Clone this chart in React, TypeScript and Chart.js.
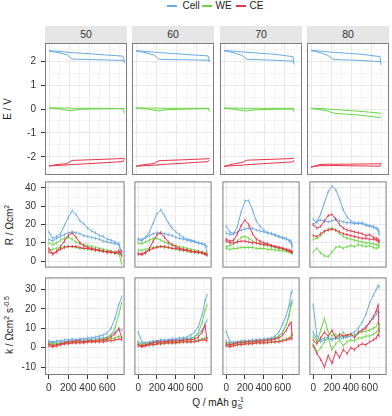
import React, { useEffect, useRef } from 'react';
import { Chart, registerables } from 'chart.js';
Chart.register(...registerables);

const FONT = "'Liberation Sans', Arial, Helvetica, sans-serif";
Chart.defaults.font.family = FONT;

const FACETS = ['50', '60', '70', '80'];
const SERIES = ['Cell', 'WE', 'CE'];
const COLORS: Record<string, string> = { Cell: '#6aaae4', WE: '#6ad743', CE: '#e8334a' };

// ---------- Row 1: E / V ----------
const EQ50 = [0, 90, 180, 230, 300, 500, 740, 755];
const EQ60 = [0, 90, 180, 230, 300, 500, 720, 735];
const EQ70 = [0, 90, 180, 230, 300, 500, 690, 700];
const EQ80 = [0, 90, 170, 220, 300, 500, 690, 700];

const E50cellA = [2.44, 2.41, 2.38, 2.36, 2.34, 2.28, 2.21, 1.95];
const E50cellB = [2.42, 2.36, 2.27, 2.09, 2.08, 2.06, 2.03, 1.93];
const E50weA = [0.05, 0.04, 0.04, 0.03, 0.03, 0.03, 0.02, -0.18];
const E50weB = [0.04, 0.02, -0.06, -0.07, -0.01, 0.01, 0.02, 0.04];
const E50ceA = [-2.38, -2.36, -2.34, -2.32, -2.31, -2.26, -2.2, -2.1];
const E50ceB = [-2.38, -2.32, -2.28, -2.15, -2.14, -2.11, -2.07, -2.06];

const E60cellA = [2.44, 2.41, 2.38, 2.36, 2.34, 2.28, 2.22, 1.97];
const E60cellB = [2.42, 2.36, 2.26, 2.08, 2.07, 2.06, 2.04, 2.0];
const E60weA = [0.05, 0.04, 0.04, 0.03, 0.03, 0.03, 0.03, -0.12];
const E60weB = [0.04, 0.02, -0.05, -0.08, -0.03, 0.0, 0.02, 0.04];
const E60ceA = [-2.39, -2.37, -2.35, -2.33, -2.31, -2.26, -2.2, -2.12];
const E60ceB = [-2.39, -2.32, -2.28, -2.16, -2.15, -2.12, -2.08, -2.06];

const E70cellA = [2.45, 2.42, 2.39, 2.37, 2.35, 2.29, 2.19, 1.86];
const E70cellB = [2.43, 2.36, 2.24, 2.08, 2.07, 2.04, 2.0, 1.95];
const E70weA = [0.04, 0.04, 0.03, 0.03, 0.03, 0.03, 0.03, -0.12];
const E70weB = [0.03, 0.0, -0.07, -0.08, -0.04, -0.01, 0.0, 0.02];
const E70ceA = [-2.4, -2.37, -2.35, -2.33, -2.31, -2.26, -2.21, -2.14];
const E70ceB = [-2.4, -2.3, -2.24, -2.14, -2.13, -2.1, -2.07, -2.04];

const E80cellA = [2.46, 2.42, 2.39, 2.37, 2.35, 2.29, 2.19, 1.85];
const E80cellB = [2.44, 2.36, 2.24, 2.08, 2.06, 2.03, 1.98, 1.96];
const E80weA = [0.03, 0.02, 0.0, -0.02, -0.04, -0.1, -0.17, -0.2];
const E80weB = [0.03, -0.02, -0.09, -0.17, -0.2, -0.26, -0.36, -0.3];
const E80ceA = [-2.43, -2.32, -2.31, -2.31, -2.31, -2.3, -2.29, -2.27];
const E80ceB = [-2.43, -2.37, -2.37, -2.36, -2.37, -2.38, -2.39, -2.31];

// ---------- Rows 2-3: shared Q grids ----------
const Q50 = [0, 40, 80, 120, 160, 200, 240, 280, 320, 360, 400, 440, 480, 520, 560, 600, 640, 680, 720, 750];
const Q60 = [0, 40, 80, 120, 160, 200, 240, 280, 320, 360, 400, 440, 480, 520, 560, 600, 640, 680, 710, 730];
const Q70 = [0, 40, 80, 120, 160, 200, 240, 280, 320, 360, 400, 440, 480, 520, 560, 600, 640, 670, 690, 700];
const Q80 = [0, 40, 80, 120, 160, 200, 240, 280, 320, 360, 400, 440, 480, 520, 560, 600, 640, 670, 690, 700];

// ---------- Row 2: R / Ωcm² ----------
const R50cellA = [16, 12.5, 13.5, 15, 19.5, 24, 27.5, 25.5, 22, 20.5, 18, 16.5, 15.5, 14, 13.5, 12, 11.5, 10.5, 9.5, 5];
const R50cellB = [12, 11, 12.5, 13.5, 14.5, 15.5, 16, 15.5, 15, 14, 13.5, 13, 12.5, 12, 11, 10.5, 10, 9.5, 9, 4];
const R50weA = [10, 9, 10, 11.5, 12.5, 13, 12, 10.5, 9.5, 9, 8.5, 8, 7.5, 7, 6.5, 6, 5.5, 5, 4.5, -1.5];
const R50weB = [6, 6.5, 7, 7.5, 8, 8, 8, 7.5, 7, 7, 6.5, 6.5, 6, 5.5, 5.5, 5, 5, 4.5, 4, 3];
const R50ceA = [7, 4, 5, 8, 11, 14, 15.5, 13, 10, 8.5, 7.5, 7, 6.5, 6, 5.5, 5, 5, 4.5, 6, 3];
const R50ceB = [5, 4, 5.5, 6.5, 7.5, 8, 8, 8, 7.5, 7, 7, 6.5, 6, 6, 5.5, 5, 5, 4.5, 4.5, 5.5];

const R60cellA = [12, 11, 13, 16, 21, 26, 28, 25, 21, 18, 16, 14.5, 13, 12, 11.5, 11, 10, 9.5, 9, 5];
const R60cellB = [12, 12, 13, 14, 15, 15.5, 15.5, 15, 14.5, 14, 13, 12.5, 12, 11.5, 11, 10.5, 10, 9.5, 9, 8];
const R60weA = [10, 9.5, 10.5, 11.5, 12.5, 12.5, 11.5, 10.5, 9.5, 9, 8.5, 8, 7.5, 7, 6.5, 6, 5.5, 5, 4.5, 4];
const R60weB = [6, 6, 6.5, 7, 7.5, 8, 8, 7.5, 7.5, 7, 6.5, 6, 6, 5.5, 5, 5, 4.5, 4.5, 4, 3.5];
const R60ceA = [4, 3.5, 4.5, 7, 11, 14.5, 15.5, 13, 10.5, 9, 8, 7, 6.5, 6, 5.5, 5, 5, 4.5, 4, 3.5];
const R60ceB = [4, 4, 5, 6, 7, 7.5, 8, 8, 7.5, 7, 7, 6.5, 6, 6, 5.5, 5, 5, 4.5, 4, 3.5];

const R70cellA = [19, 16, 15, 19, 27, 33, 33, 28, 22, 19, 17, 15.5, 15, 14, 13.5, 13, 12.5, 11, 10, 7.5];
const R70cellB = [15.5, 14.5, 15, 16, 17, 17.5, 18, 18, 17, 16.5, 16, 15.5, 15, 14.5, 13.5, 12.5, 12, 11.5, 11, 9];
const R70weA = [8, 8.5, 9.5, 11, 13, 13.5, 12.5, 11, 10, 9.5, 9, 8.5, 8, 7.5, 7, 6.5, 6, 5.5, 5, 4.5];
const R70weB = [7, 6.5, 7, 7, 7.5, 7.5, 7.5, 7.5, 7, 7, 7, 6.5, 6.5, 6, 6, 5.5, 5.5, 5, 5, 4.5];
const R70ceA = [12, 11, 11.5, 15, 19.5, 22.5, 20, 15, 12, 11, 10, 9.5, 8.5, 8, 7.5, 7, 6, 5.5, 5, 5];
const R70ceB = [11, 10, 10, 10.5, 11, 11, 10.5, 10, 10, 9.5, 9, 9, 8.5, 8, 7.5, 7, 6.5, 6, 5.5, 5];

const R80cellA = [23, 21, 26, 32, 38, 41, 39, 34, 28, 24, 22, 21, 20.5, 21, 20, 19.5, 19, 18, 17, 14.5];
const R80cellB = [20, 22, 22.5, 22, 21.5, 22, 23, 22, 21.5, 21, 21, 20.5, 21, 20.5, 19.5, 19, 18.5, 18, 17.5, 16];
const R80weA = [12, 12.5, 14, 16, 17.5, 18, 17, 15, 13.5, 12.5, 12, 11.5, 11, 10.5, 10, 10, 9.5, 9, 9, 8.5];
const R80weB = [5, 7, 4.5, 3, 2.5, 5, 7.5, 8, 7, 8, 8.5, 8, 9, 8.5, 8, 8.5, 7.5, 7, 7.5, 8];
const R80ceA = [20, 18, 19, 22, 25, 25.5, 23, 20, 18, 17, 16.5, 16, 15.5, 15, 14, 14.5, 13, 12.5, 12, 11];
const R80ceB = [14, 13.5, 15, 16.5, 17, 17.5, 17, 16, 15, 14.5, 14, 13.5, 13, 12.5, 12.5, 12, 12, 11.5, 11, 10.5];

// ---------- Row 3: k ----------
const K50cellA = [3.5, 3, 3.5, 3.5, 4, 4, 4.5, 4, 4.5, 4.5, 5, 5, 5.5, 6, 6.5, 7.5, 10, 15, 22, 26];
const K50cellB = [3, 2.5, 3, 3, 3, 3.5, 3.5, 3.5, 4, 4, 4, 4.5, 4.5, 5, 5, 5.5, 6.5, 8, 9.5, 9];
const K50weA = [2.5, 2, 2, 2.5, 2.5, 3, 3, 3, 3, 3.5, 3.5, 3.5, 4, 4, 4.5, 5, 6.5, 10, 17, 23];
const K50weB = [1.5, 1.5, 2, 2, 2, 2.5, 2.5, 2.5, 3, 3, 3, 3, 3.5, 3.5, 3.5, 4, 4.5, 5, 6, 5];
const K50ceA = [2, 1, 1.5, 2, 2.5, 3, 3, 3.5, 3.5, 3, 3.5, 3.5, 3.5, 4, 4, 4.5, 5.5, 7, 10, 5];
const K50ceB = [1, 0.5, 1, 1.5, 2, 2, 2.5, 2.5, 2.5, 2.5, 3, 3, 3, 3, 3, 3.5, 3.5, 4, 4.5, 4];

const K60cellA = [8, 3, 2.5, 3, 3.5, 3.5, 4, 4, 4, 4.5, 4.5, 5, 5, 5.5, 6.5, 8, 11, 17, 24, 27];
const K60cellB = [3, 2, 2.5, 2.5, 3, 3, 3.5, 3.5, 3.5, 4, 4, 4, 4.5, 4.5, 5, 5.5, 7, 9, 12, 14];
const K60weA = [3, 1.5, 2, 2, 2.5, 2.5, 3, 3, 3, 3, 3.5, 3.5, 4, 4, 4.5, 5.5, 8, 13, 19, 22];
const K60weB = [2, 1, 1, 1.5, 1.5, 2, 2, 2, 2.5, 2.5, 2.5, 2.5, 3, 3, 3, 3.5, 4, 4.5, 5, 5];
const K60ceA = [1.5, 1, 1.5, 2, 2.5, 3, 3, 3, 3.5, 3.5, 3.5, 3.5, 4, 4, 4, 4.5, 5.5, 8, 11.5, 4.5];
const K60ceB = [1, 0.5, 1, 1.5, 1.5, 2, 2, 2.5, 2.5, 2.5, 2.5, 3, 3, 3, 3, 3, 3.5, 4, 4, 3.5];

const K70cellA = [8.5, 3, 3, 3, 3.5, 3.5, 3.5, 4, 4, 4, 4.5, 4.5, 5, 6, 8, 12, 17, 22, 28, 29];
const K70cellB = [3, 2.5, 2.5, 3, 3, 3, 3.5, 3.5, 3.5, 4, 4, 4, 4.5, 5, 6, 8, 12, 17, 23, 24];
const K70weA = [3, 2, 2, 2.5, 2.5, 3, 3, 3, 3, 3.5, 3.5, 4, 4, 5, 6, 8, 12, 17, 22, 23];
const K70weB = [1.5, 1, 1.5, 1.5, 2, 2, 2, 2.5, 2.5, 2.5, 2.5, 3, 3, 3, 3.5, 4, 4.5, 5, 6, 7];
const K70ceA = [2, 1.5, 2, 2.5, 2.5, 3, 3, 3, 3.5, 3.5, 3.5, 4, 4, 4.5, 5, 6.5, 9, 12, 13, 6];
const K70ceB = [1, 0.5, 1, 1.5, 1.5, 2, 2, 2, 2.5, 2.5, 2.5, 2.5, 3, 3, 3, 3.5, 4, 4.5, 5, 4.5];

const K80cellA = [22, 6, 4, 5, 5.5, 4.5, 5, 6, 5.5, 6, 7, 8, 10, 13, 17, 23, 27, 30, 32, 31];
const K80cellB = [8, 4, 3, 4, 4.5, 4, 5, 4.5, 5, 5.5, 6, 6.5, 7.5, 9, 11, 13, 15, 17, 19, 18];
const K80weA = [6, 3, 9, 15, 8, 6, 7, 5, 8, 6, 7, 6, 7.5, 8, 8.5, 9, 10, 11, 13, 12];
const K80weB = [2, -2, 0, 3, 5, -1, 2, 4, 1, 3, 4, 3.5, 5, 5, 6, 6, 7, 8, 9, 10];
const K80ceA = [4, 2, 5, 8, 6, 9, 5, 7, 6, 6.5, 7, 5, 8, 9, 10, 13, 16, 19, 22, 8];
const K80ceB = [1, -3, -6, -10, -4, -8, -2, -5, -1, -3, 0, -1, 1, 2, 1.5, 3, 4, 5, 7, 6];

type PanelData = { q: number[]; Cell: number[][]; WE: number[][]; CE: number[][] };
type RowSpec = { min: number; max: number; step: number; major: number; panels: PanelData[] };

const ROWS: RowSpec[] = [
  {
    min: -2.76, max: 2.76, step: 0.5, major: 1,
    panels: [
      { q: EQ50, Cell: [E50cellA, E50cellB], WE: [E50weA, E50weB], CE: [E50ceA, E50ceB] },
      { q: EQ60, Cell: [E60cellA, E60cellB], WE: [E60weA, E60weB], CE: [E60ceA, E60ceB] },
      { q: EQ70, Cell: [E70cellA, E70cellB], WE: [E70weA, E70weB], CE: [E70ceA, E70ceB] },
      { q: EQ80, Cell: [E80cellA, E80cellB], WE: [E80weA, E80weB], CE: [E80ceA, E80ceB] },
    ],
  },
  {
    min: -3.5, max: 43.6, step: 5, major: 10,
    panels: [
      { q: Q50, Cell: [R50cellA, R50cellB], WE: [R50weA, R50weB], CE: [R50ceA, R50ceB] },
      { q: Q60, Cell: [R60cellA, R60cellB], WE: [R60weA, R60weB], CE: [R60ceA, R60ceB] },
      { q: Q70, Cell: [R70cellA, R70cellB], WE: [R70weA, R70weB], CE: [R70ceA, R70ceB] },
      { q: Q80, Cell: [R80cellA, R80cellB], WE: [R80weA, R80weB], CE: [R80ceA, R80ceB] },
    ],
  },
  {
    min: -14, max: 36.1, step: 5, major: 10,
    panels: [
      { q: Q50, Cell: [K50cellA, K50cellB], WE: [K50weA, K50weB], CE: [K50ceA, K50ceB] },
      { q: Q60, Cell: [K60cellA, K60cellB], WE: [K60weA, K60weB], CE: [K60ceA, K60ceB] },
      { q: Q70, Cell: [K70cellA, K70cellB], WE: [K70weA, K70weB], CE: [K70ceA, K70ceB] },
      { q: Q80, Cell: [K80cellA, K80cellB], WE: [K80weA, K80weB], CE: [K80ceA, K80ceB] },
    ],
  },
];

const X_MIN = -40;
const X_MAX = 780;
const X_STEP = 100;
const X_MAJOR = 200;

// layout
const PANEL_X = [45, 132, 220, 307];
const PANEL_W = 82;
const PANEL_Y = [43, 179, 275];
const PANEL_H = [132, 91, 100];
const LEFT_EDGE = 17;
const X_AXIS_H = 18;
const STRIP_TOP = 26;
const STRIP_H = 17;

const GRID_MAJ = '#e9e9e9';
const GRID_MIN = '#f4f4f4';
const TICK_COLOR = '#333333';
const BORDER = '#7d7d7d';

const framePlugin = {
  id: 'frame',
  afterDraw(chart: any) {
    const { ctx, chartArea } = chart;
    const { left, top, right, bottom } = chartArea;
    ctx.save();
    ctx.strokeStyle = BORDER;
    ctx.lineWidth = 1;
    ctx.strokeRect(left + 0.5, top + 0.5, right - left - 1, bottom - top - 1);
    ctx.restore();
  },
};

const isMult = (v: number, m: number) => Math.abs(v / m - Math.round(v / m)) < 1e-6;

function Panel({ row, col }: { row: number; col: number }) {
  const ref = useRef<HTMLCanvasElement>(null);
  const spec = ROWS[row];
  const px = PANEL_X[col];
  const py = PANEL_Y[row];
  const ph = PANEL_H[row];
  const yW = col === 0 ? px - LEFT_EDGE : 0;
  const xH = row === 2 ? X_AXIS_H : 0;
  const left = px - yW;
  const w = PANEL_W + yW;
  const h = ph + xH;

  useEffect(() => {
    const p = spec.panels[col];
    const datasets: any[] = [];
    SERIES.forEach((s, si) => {
      (p as any)[s].forEach((vals: number[]) => {
        datasets.push({
          label: s,
          data: p.q.map((x, i) => ({ x, y: vals[i] })),
          borderColor: COLORS[s],
          backgroundColor: COLORS[s],
          borderWidth: 1,
          pointRadius: row === 0 ? 0 : 1.6,
          pointStyle: 'line',
          rotation: 90,
          pointBorderWidth: 0.8,
          pointHoverRadius: 0,
          tension: 0,
          fill: false,
          order: 3 - si,
        });
      });
    });
    const fontSpec = { family: FONT, size: 10 };
    const zeroPad = (s: any) => {
      s.paddingLeft = 0;
      s.paddingRight = 0;
      s.paddingTop = 0;
      s.paddingBottom = 0;
    };
    const chart = new Chart(ref.current as HTMLCanvasElement, {
      type: 'line',
      data: { datasets },
      plugins: [framePlugin],
      options: {
        animation: false,
        responsive: false,
        maintainAspectRatio: false,
        events: [],
        layout: { padding: 0 },
        plugins: { legend: { display: false }, tooltip: { enabled: false } },
        scales: {
          x: {
            type: 'linear',
            min: X_MIN,
            max: X_MAX,
            ticks: {
              stepSize: X_STEP,
              includeBounds: false,
              display: row === 2,
              autoSkip: false,
              maxRotation: 0,
              padding: 3,
              color: TICK_COLOR,
              font: fontSpec,
              callback: (v: any) => (isMult(Number(v), X_MAJOR) ? String(v) : ''),
            },
            grid: {
              color: (c: any) => (c.tick && isMult(c.tick.value, X_MAJOR) ? GRID_MAJ : GRID_MIN),
              tickColor: (c: any) => (c.tick && isMult(c.tick.value, X_MAJOR) ? TICK_COLOR : 'rgba(0,0,0,0)'),
              drawTicks: row === 2,
              tickLength: 4,
              lineWidth: 1,
            },
            border: { display: false },
            afterFit: (s: any) => {
              s.height = xH;
              zeroPad(s);
            },
          },
          y: {
            type: 'linear',
            min: spec.min,
            max: spec.max,
            ticks: {
              stepSize: spec.step,
              includeBounds: false,
              display: col === 0,
              autoSkip: false,
              padding: 5,
              color: TICK_COLOR,
              font: fontSpec,
              callback: (v: any) => (isMult(Number(v), spec.major) ? String(v) : ''),
            },
            grid: {
              color: (c: any) => (c.tick && isMult(c.tick.value, spec.major) ? GRID_MAJ : GRID_MIN),
              tickColor: (c: any) => (c.tick && isMult(c.tick.value, spec.major) ? TICK_COLOR : 'rgba(0,0,0,0)'),
              drawTicks: col === 0,
              tickLength: 4,
              lineWidth: 1,
            },
            border: { display: false },
            afterFit: (s: any) => {
              s.width = yW;
              zeroPad(s);
            },
          },
        },
      } as any,
    });
    return () => chart.destroy();
  }, []);

  return (
    <canvas
      ref={ref}
      width={w}
      height={h}
      style={{ position: 'absolute', left, top: py, width: w, height: h }}
    />
  );
}

const textBase: React.CSSProperties = {
  position: 'absolute',
  fontFamily: FONT,
  fontSize: 10,
  color: '#1a1a1a',
  whiteSpace: 'nowrap',
  lineHeight: '12px',
};

function VTitle({ cx, cy, children }: { cx: number; cy: number; children: React.ReactNode }) {
  return (
    <div style={{ ...textBase, left: cx, top: cy, transform: 'translate(-50%,-50%) rotate(-90deg)' }}>
      {children}
    </div>
  );
}

const supStyle: React.CSSProperties = { fontSize: 7, verticalAlign: '4px', lineHeight: '7px' };

const LEGEND = [
  { name: 'Cell', lineX: 167, textX: 182.5 },
  { name: 'WE', lineX: 202, textX: 215.5 },
  { name: 'CE', lineX: 236, textX: 249.5 },
];

export default function App() {
  return (
    <div
      style={{
        position: 'absolute',
        left: 0,
        top: 0,
        width: 392,
        height: 416,
        background: '#ffffff',
        overflow: 'hidden',
        fontFamily: FONT,
      }}
    >
      {LEGEND.map((l) => (
        <React.Fragment key={l.name}>
          <div
            style={{
              position: 'absolute',
              left: l.lineX,
              top: 5,
              width: 10,
              height: 1.5,
              background: COLORS[l.name],
            }}
          />
          <div style={{ ...textBase, left: l.textX, top: 0 }}>{l.name}</div>
        </React.Fragment>
      ))}

      {FACETS.map((f, i) => (
        <div
          key={f}
          style={{
            ...textBase,
            left: PANEL_X[i],
            top: STRIP_TOP,
            width: PANEL_W,
            height: STRIP_H,
            lineHeight: STRIP_H + 'px',
            textAlign: 'center',
            background: '#e6e6e6',
            fontSize: 10.5,
            color: '#333',
          }}
        >
          {f}
        </div>
      ))}

      {[0, 1, 2].map((r) => [0, 1, 2, 3].map((c) => <Panel key={r + '-' + c} row={r} col={c} />))}

      <VTitle cx={8} cy={109}>E / V</VTitle>
      <VTitle cx={9} cy={225}>
        R / Ωcm<span style={supStyle}>2</span>
      </VTitle>
      <VTitle cx={9} cy={325}>
        k / Ωcm<span style={supStyle}>2</span> s<span style={supStyle}>-0.5</span>
      </VTitle>

      <div style={{ ...textBase, left: 218, top: 403, transform: 'translate(-50%,-50%)' }}>
        Q / mAh g
        <span
          style={{
            display: 'inline-flex',
            flexDirection: 'column',
            fontSize: 7,
            lineHeight: '7px',
            verticalAlign: '4px',
            marginLeft: 0.5,
          }}
        >
          <span>-1</span>
          <span>S</span>
        </span>
      </div>
    </div>
  );
}
